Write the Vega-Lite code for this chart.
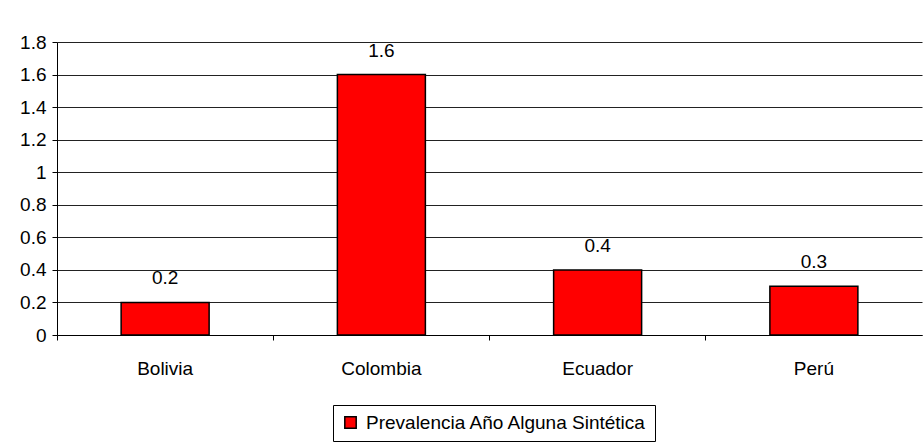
{
  "$schema": "https://vega.github.io/schema/vega-lite/v6.json",
  "autosize": {"type": "none"},
  "width": 865,
  "height": 293,
  "padding": {"left": 57, "top": 42, "right": 2, "bottom": 110},
  "background": "white",
  "config": {
    "font": "Liberation Sans",
    "view": {"stroke": null},
    "axis": {"labelFont": "Liberation Sans", "labelColor": "black", "labelFontSize": 19}
  },
  "data": {
    "values": [
      {"pais": "Bolivia", "valor": 0.2, "serie": "Prevalencia Año Alguna Sintética"},
      {"pais": "Colombia", "valor": 1.6, "serie": "Prevalencia Año Alguna Sintética"},
      {"pais": "Ecuador", "valor": 0.4, "serie": "Prevalencia Año Alguna Sintética"},
      {"pais": "Perú", "valor": 0.3, "serie": "Prevalencia Año Alguna Sintética"}
    ]
  },
  "encoding": {
    "x": {
      "field": "pais", "type": "nominal", "sort": null, "title": null,
      "scale": {"paddingInner": 0, "paddingOuter": 0},
      "axis": {"labelAngle": 0, "labelPadding": 19, "domainColor": "black", "tickColor": "black", "tickSize": 5, "bandPosition": 0, "labelFontSize": 19}
    },
    "y": {
      "field": "valor", "type": "quantitative", "title": null,
      "scale": {"domain": [0, 1.8], "nice": false},
      "axis": {"values": [0, 0.2, 0.4, 0.6, 0.8, 1, 1.2, 1.4, 1.6, 1.8], "labelOverlap": false, "format": "~g", "gridColor": "#222222", "gridWidth": 1, "domainColor": "black", "tickColor": "black", "tickSize": 5, "labelPadding": 6, "labelFontSize": 19}
    }
  },
  "layer": [
    {
      "mark": {"type": "bar", "color": "#FF0000", "stroke": "black", "strokeWidth": 1.5, "size": 88},
      "encoding": {
        "color": {
          "field": "serie", "type": "nominal", "title": null,
          "scale": {"range": ["#FF0000"]},
          "legend": {
            "orient": "none", "legendX": 276, "legendY": 363, "direction": "horizontal",
            "symbolType": "square", "symbolSize": 130, "symbolStrokeColor": "black", "symbolStrokeWidth": 1.5,
            "labelFontSize": 19, "labelFont": "Liberation Sans", "labelColor": "black", "labelLimit": 400, "labelOffset": 6,
            "strokeColor": "black", "padding": 8, "cornerRadius": 0
          }
        }
      }
    },
    {
      "mark": {"type": "text", "baseline": "bottom", "dy": -14, "fontSize": 19, "font": "Liberation Sans", "color": "black"},
      "encoding": {
        "text": {"field": "valor", "type": "quantitative", "format": "~g"}
      }
    }
  ]
}
